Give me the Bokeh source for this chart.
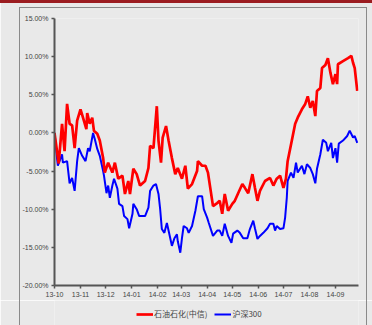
import pandas as pd
from bokeh.plotting import figure
from bokeh.layouts import column
from bokeh.models import (ColumnDataSource, MonthsTicker, DatetimeTickFormatter,
                          PrintfTickFormatter, FixedTicker, Range1d, Legend, LegendItem,
                          InlineStyleSheet)
from bokeh.embed import file_html
from bokeh.resources import INLINE

# ---- data ----
red_name = "石油石化(中信)"
blue_name = "沪深300"

red_dates = ["2013-10-01","2013-10-06","2013-10-10","2013-10-13","2013-10-16","2013-10-19",
             "2013-10-22","2013-10-25","2013-10-28","2013-11-01","2013-11-04","2013-11-08",
             "2013-11-09","2013-11-12","2013-11-15","2013-11-17","2013-11-21","2013-11-24",
             "2013-11-28","2013-11-30","2013-12-04","2013-12-09","2013-12-12","2013-12-16",
             "2013-12-21","2013-12-24","2013-12-28","2013-12-30","2014-01-03","2014-01-07",
             "2014-01-11","2014-01-17","2014-01-21","2014-01-23","2014-01-27","2014-01-31",
             "2014-02-02","2014-02-05","2014-02-07","2014-02-11","2014-02-14","2014-02-18",
             "2014-02-22","2014-02-25","2014-03-02","2014-03-06","2014-03-09","2014-03-14",
             "2014-03-20","2014-03-21","2014-03-26","2014-03-30","2014-04-02","2014-04-08",
             "2014-04-13","2014-04-16","2014-04-19","2014-04-22","2014-04-26","2014-05-01",
             "2014-05-04","2014-05-08","2014-05-13","2014-05-16","2014-05-20","2014-05-25",
             "2014-05-28","2014-05-31","2014-06-03","2014-06-09","2014-06-15","2014-06-19",
             "2014-06-23","2014-06-27","2014-07-01","2014-07-04","2014-07-06","2014-07-11",
             "2014-07-15","2014-07-18","2014-07-23","2014-07-27","2014-07-30","2014-08-02",
             "2014-08-05","2014-08-08","2014-08-10","2014-08-14","2014-08-16","2014-08-20",
             "2014-08-23","2014-08-26","2014-08-29","2014-09-01","2014-09-03","2014-09-04",
             "2014-09-10","2014-09-16","2014-09-20","2014-09-22","2014-09-24","2014-09-27"]
red_values = [0.0, -4.0, 1.2, -2.4, 3.8, 1.2,
              1.0, -2.0, 1.6, 3.1, 2.0, 0.5,
              2.6, 1.2, 2.0, 0.3, -0.1, -1.0,
              -3.3, -5.2, -3.9, -5.2, -3.9, -6.0,
              -5.6, -8.0, -6.3, -8.0, -4.7, -5.4,
              -6.9, -6.3, -4.6, -1.7, -2.0, 3.5,
              -1.0, -3.9, -0.6, 0.9, -1.0, -3.3,
              -5.4, -4.6, -6.0, -4.3, -7.3, -6.7,
              -5.0, -3.7, -4.3, -4.3, -5.2, -9.6,
              -9.2, -8.9, -10.6, -8.0, -10.2, -9.3,
              -8.9, -7.9, -6.7, -7.2, -7.9, -5.4,
              -7.2, -8.9, -7.6, -6.3, -5.9, -6.9,
              -6.0, -5.6, -7.2, -6.0, -3.7, -1.0,
              1.2, 2.0, 3.1, 3.8, 4.8, 3.3,
              4.2, 2.2, 5.5, 5.9, 8.5, 8.9,
              9.8, 7.9, 6.4, 7.7, 6.4, 9.0,
              9.4, 9.8, 10.1, 9.2, 8.5, 5.5]

blue_dates = ["2013-10-01","2013-10-04","2013-10-05","2013-10-10","2013-10-11","2013-10-16",
              "2013-10-19","2013-10-22","2013-10-25","2013-10-28","2013-10-30","2013-11-03",
              "2013-11-07","2013-11-10","2013-11-12","2013-11-16","2013-11-18","2013-11-21",
              "2013-11-24","2013-11-28","2013-11-29","2013-12-02","2013-12-04","2013-12-06",
              "2013-12-09","2013-12-11","2013-12-15","2013-12-17","2013-12-21","2013-12-23",
              "2013-12-27","2013-12-29","2014-01-02","2014-01-03","2014-01-07","2014-01-10",
              "2014-01-17","2014-01-21","2014-01-23","2014-01-27","2014-01-30","2014-02-02",
              "2014-02-04","2014-02-06","2014-02-09","2014-02-12","2014-02-14","2014-02-18",
              "2014-02-21","2014-02-24","2014-02-25","2014-02-28","2014-03-02","2014-03-04",
              "2014-03-08","2014-03-10","2014-03-14","2014-03-18","2014-03-21","2014-03-26",
              "2014-03-28","2014-04-01","2014-04-03","2014-04-08","2014-04-13","2014-04-16",
              "2014-04-19","2014-04-22","2014-04-26","2014-04-30","2014-05-02","2014-05-07",
              "2014-05-10","2014-05-14","2014-05-19","2014-05-22","2014-05-26","2014-05-28",
              "2014-05-31","2014-06-03","2014-06-07","2014-06-12","2014-06-15","2014-06-19",
              "2014-06-21","2014-06-23","2014-06-27","2014-07-01","2014-07-03","2014-07-05",
              "2014-07-06","2014-07-10","2014-07-13","2014-07-16","2014-07-18","2014-07-23",
              "2014-07-26","2014-07-29","2014-08-02","2014-08-05","2014-08-08","2014-08-10",
              "2014-08-14","2014-08-17","2014-08-21","2014-08-23","2014-08-27","2014-08-29",
              "2014-09-01","2014-09-03","2014-09-05","2014-09-10","2014-09-15","2014-09-18",
              "2014-09-22","2014-09-24","2014-09-27"]
blue_values = [0.0, -3.3, -4.3, -2.8, -3.9, -3.7,
               -6.6, -5.9, -7.6, -3.7, -2.0, -3.0,
               -3.7, -2.0, -2.4, 0.0, -0.8, -2.1,
               -3.0, -5.0, -5.6, -7.9, -6.9, -8.5,
               -6.9, -6.0, -7.3, -9.3, -9.6, -10.9,
               -11.3, -12.5, -10.6, -9.3, -10.0, -10.9,
               -10.9, -9.8, -7.6, -6.9, -6.7, -8.0,
               -10.0, -12.6, -13.1, -11.8, -12.8, -14.8,
               -13.8, -13.3, -14.2, -15.7, -13.8, -12.2,
               -12.5, -13.1, -12.2, -10.2, -8.3, -8.3,
               -10.0, -11.1, -11.8, -13.5, -12.8, -12.8,
               -13.5, -11.9, -13.5, -14.4, -13.2, -12.8,
               -13.1, -13.8, -13.8, -12.6, -11.5, -12.5,
               -13.9, -13.5, -13.1, -12.5, -11.9, -11.9,
               -12.8, -12.2, -12.6, -12.5, -11.1, -8.5,
               -6.3, -5.2, -5.9, -3.9, -5.2, -4.3,
               -5.4, -4.1, -4.6, -5.4, -6.6, -4.7,
               -2.8, -0.9, -1.3, -2.4, -1.3, -3.3,
               -2.0, -3.9, -1.4, -1.0, -0.4, 0.3,
               -0.6, -0.4, -1.3]

y_ticks = [-20, -15, -10, -5, 0, 5, 10, 15]
x_start = "2013-10-01"
x_end = "2014-09-28 12:00"

RED = "#ff0000"
BLUE = "#0000ff"
BG = "#e9e9e9"

# ---- decoration (top strip + outer frame) ----
css_top = """
:host { position: relative; }
:host::before { content: ""; position: absolute; left: 0; top: 0; width: 372px; height: 2.5px;
  background: #9b1c20; z-index: 10; pointer-events: none; }
:host::after { content: ""; position: absolute; left: 19px; top: 7px; width: 348px; height: 293px;
  border: 1.5px solid #8a8a8a; border-bottom: none; box-sizing: border-box;
  z-index: 10; pointer-events: none; }
"""
css_bottom = """
:host { position: relative; }
:host::after { content: ""; position: absolute; left: 19px; top: 0; width: 348px; height: 25px;
  border-left: 1.5px solid #8a8a8a; border-right: 1.5px solid #8a8a8a; box-sizing: border-box;
  z-index: 10; pointer-events: none; }
"""

# ---- main figure ----
p = figure(width=372, height=300, output_backend="svg", toolbar_location=None,
           x_axis_type="datetime",
           x_range=Range1d(pd.Timestamp(x_start), pd.Timestamp(x_end)),
           y_range=Range1d(-20, 15),
           min_border_left=54, min_border_right=14, min_border_top=18, min_border_bottom=15,
           stylesheets=[InlineStyleSheet(css=css_top)])
p.background_fill_color = BG
p.border_fill_color = BG
p.outline_line_color = None
p.grid.visible = False

src_r = ColumnDataSource(dict(x=pd.to_datetime(red_dates), y=red_values))
src_b = ColumnDataSource(dict(x=pd.to_datetime(blue_dates), y=blue_values))
p.line("x", "y", source=src_b, line_color=BLUE, line_width=2)
p.line("x", "y", source=src_r, line_color=RED, line_width=2.7)

for ax in (p.xaxis[0], p.yaxis[0]):
    ax.axis_line_color = "#555555"
    ax.axis_line_width = 2
    ax.major_tick_line_color = "#555555"
    ax.major_tick_line_width = 1.5
    ax.major_tick_out = 3
    ax.major_tick_in = 0
    ax.minor_tick_line_color = None
    ax.major_label_text_font = "Liberation Sans"
    ax.major_label_text_font_size = "7px"
    ax.major_label_text_color = "#444444"
    ax.major_label_standoff = 3

p.yaxis.ticker = FixedTicker(ticks=y_ticks)
p.yaxis.formatter = PrintfTickFormatter(format="%.2f%%")
p.xaxis.ticker = MonthsTicker(months=list(range(12)))
p.xaxis.formatter = DatetimeTickFormatter(months="%y-%m", days="%y-%m")

# ---- legend strip (its frame is aligned with the main frame by the column) ----
lg = figure(width=372, height=25, output_backend="svg", toolbar_location=None,
            x_axis_type="datetime",
            x_range=Range1d(0, 1), y_range=Range1d(0, 1),
            min_border=0, x_axis_location=None, y_axis_location=None,
            stylesheets=[InlineStyleSheet(css=css_bottom)])
lg.background_fill_color = BG
lg.border_fill_color = BG
lg.outline_line_color = None
lg.grid.visible = False
# same series drawn off-range, only to key the legend
dr = lg.line("x", "y", source=src_r, line_color=RED, line_width=2.7)
db = lg.line("x", "y", source=src_b, line_color=BLUE, line_width=2)
legend = Legend(items=[LegendItem(label=red_name, renderers=[dr]),
                       LegendItem(label=blue_name, renderers=[db])],
                orientation="horizontal", location=(82, 6),
                background_fill_alpha=0, border_line_color=None,
                label_text_font="Noto Sans CJK SC", label_text_font_size="8px",
                label_text_color="#444444", label_height=10,
                glyph_width=17, glyph_height=10, label_standoff=1, spacing=7,
                padding=0, margin=0)
lg.add_layout(legend, "center")

page = column(p, lg, spacing=0)
open("out.html", "w").write(file_html(page, INLINE))
